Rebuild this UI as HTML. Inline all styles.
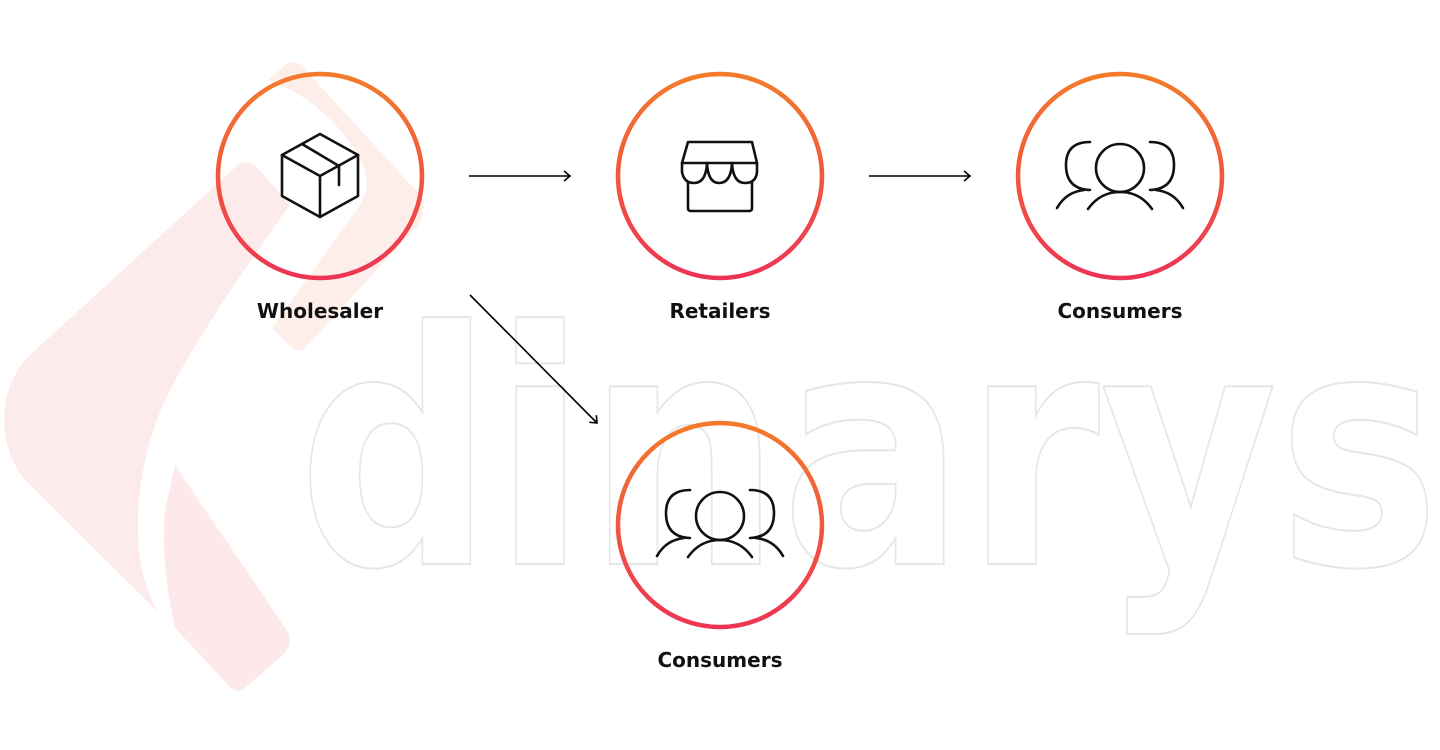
<!DOCTYPE html>
<html><head><meta charset="utf-8"><style>
html,body{margin:0;padding:0;background:#fff;}
svg{display:block}
</style></head><body>
<svg width="1440" height="750" viewBox="0 0 1440 750" xmlns="http://www.w3.org/2000/svg">
<defs>
<linearGradient id="g" x1="0" y1="0" x2="0" y2="1">
<stop offset="0" stop-color="#f47b2b"/><stop offset="1" stop-color="#ee3454"/>
</linearGradient>
<marker id="ah" markerWidth="12" markerHeight="12" refX="10" refY="6" orient="auto" markerUnits="userSpaceOnUse">
<path d="M4,1 L10,6 L4,11" fill="none" stroke="#000" stroke-width="1.6"/>
</marker>
</defs>
<path d="M240,163 Q250,160 258,168 L290,205 Q200,330 165,400 Q130,480 140,560 Q145,590 158,612 L30,485 Q0,455 5,405 Q10,375 30,355 Z" fill="#fdeaea"/>
<path d="M175,465 L288,632 Q293,645 283,655 L245,688 Q237,694 230,687 L175,628 Q160,560 165,510 Z" fill="#fde8ea"/>
<path d="M285,65 Q293,58 302,66 L420,195 Q428,210 418,225 L305,348 Q298,354 290,346 L272,328 L360,205 Q380,175 340,130 Q310,95 268,80 Z" fill="#fdeee9"/>
<text x="298" y="564" font-family="DejaVu Sans, sans-serif" font-weight="bold" font-size="325" fill="none" stroke="#e6e6e6" stroke-width="2" textLength="1142" lengthAdjust="spacingAndGlyphs">dinarys</text>
<g fill="none" stroke="url(#g)" stroke-width="4.5">
<circle cx="320" cy="176" r="102"/>
<circle cx="720" cy="176" r="102"/>
<circle cx="1120" cy="176" r="102"/>
<circle cx="720" cy="525" r="102"/>
</g>
<g stroke="#000" stroke-width="1.6" fill="none">
<line x1="469" y1="176" x2="570" y2="176" marker-end="url(#ah)"/>
<line x1="869" y1="176" x2="970" y2="176" marker-end="url(#ah)"/>
<line x1="470" y1="295" x2="597" y2="423" marker-end="url(#ah)"/>
</g>
<g fill="none" stroke="#111" stroke-width="2.6" stroke-linejoin="round" stroke-linecap="round">
<path d="M320,134 L358,155 L358,196 L320,217 L282,196 L282,155 Z"/>
<path d="M282,155 L320,176 L358,155 M320,176 L320,217"/>
<path d="M302,144 L339,166 L339,185"/>
</g>
<g fill="none" stroke="#111" stroke-width="2.6" stroke-linejoin="round" stroke-linecap="round">
<path d="M688,142 L752,142 L757,163 L682,163 Z"/>
<path d="M682,163 L682,172 Q684,183 694,183 Q706,183 707,163 Q708,183 719,183 Q731,183 732,163 Q733,183 745,183 Q756,183 757,172 L757,163"/>
<path d="M688,183 L688,208 Q688,211 691,211 L749,211 Q752,211 752,208 L752,183"/>
</g>
<g id="ppl" fill="none" stroke="#111" stroke-width="2.6" stroke-linecap="round">
<circle cx="1120" cy="168" r="24"/>
<path d="M1088,209 Q1100,192 1120,192 Q1140,192 1152,209"/>
<path d="M1090,142 Q1066,142 1066,165 Q1066,189 1090,190"/>
<path d="M1084,190 Q1066,192 1057,208"/>
<path d="M1150,142 Q1174,142 1174,165 Q1174,189 1150,190"/>
<path d="M1156,190 Q1174,192 1183,208"/>
</g>
<use href="#ppl" transform="translate(-400,348)"/>
<g font-family="DejaVu Sans, sans-serif" font-weight="bold" font-size="20" fill="#111" text-anchor="middle">
<text x="320" y="318">Wholesaler</text>
<text x="720" y="318">Retailers</text>
<text x="1120" y="318">Consumers</text>
<text x="720" y="667">Consumers</text>
</g>
</svg>
</body></html>
